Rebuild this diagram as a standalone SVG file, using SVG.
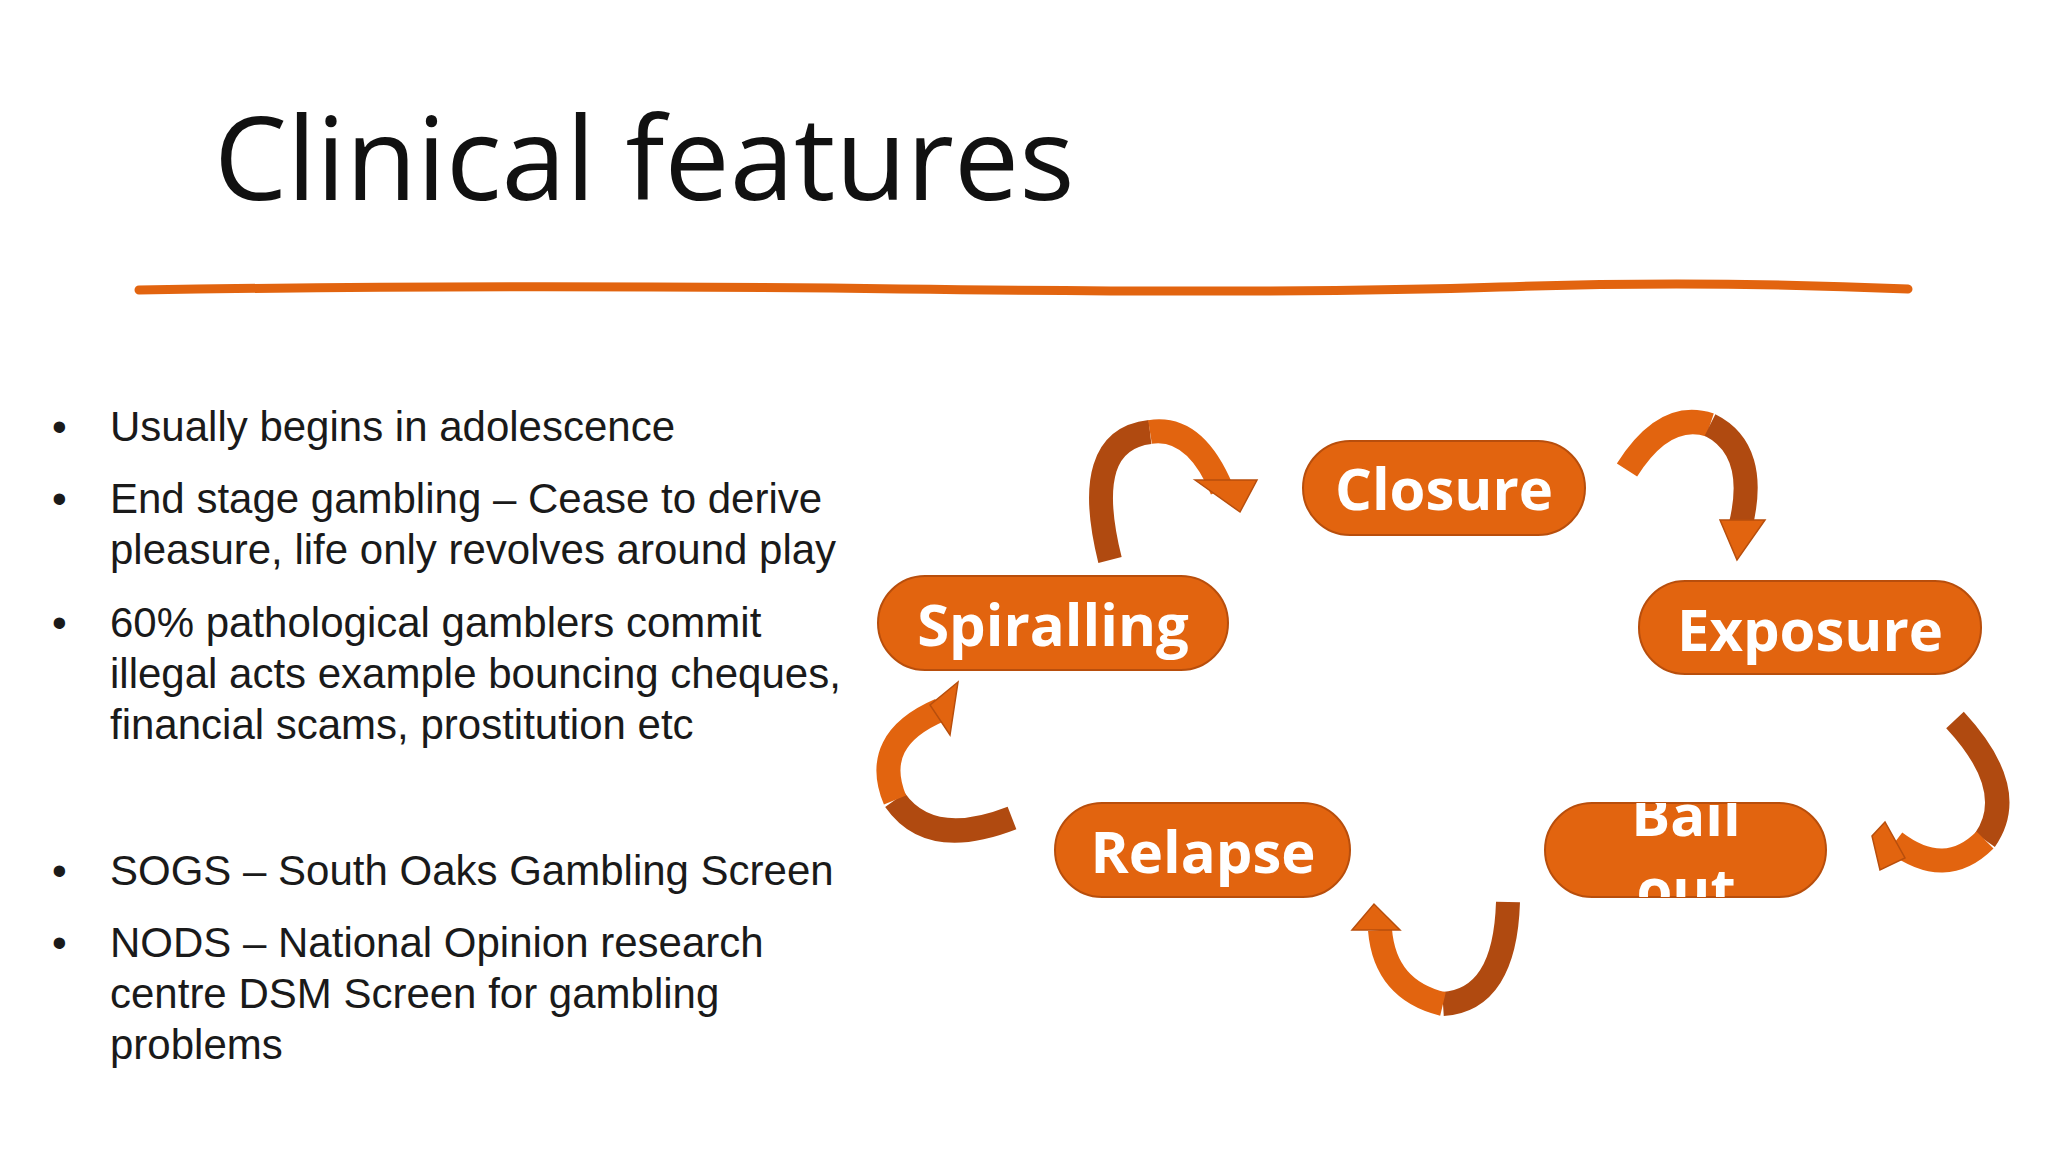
<svg xmlns="http://www.w3.org/2000/svg" width="2048" height="1152" viewBox="0 0 2048 1152">
<defs>
<style>
.b{font-family:"Liberation Sans",Arial,sans-serif;font-size:42px;fill:#1a1a1a}
.n rect{fill:#E2640F;stroke:#B84E0C;stroke-width:2}
.n text{font-family:"Open Sans","Noto Sans",sans-serif;font-weight:bold;font-size:58px;fill:#fff;text-anchor:middle}
.arc{fill:none;stroke:#E2640F;stroke-width:24;stroke-linecap:butt}
.arcd{fill:none;stroke:#B04A10;stroke-width:24}
.hd{fill:#E2640F;stroke:#B84E0C;stroke-width:1.5}
</style>
<clipPath id="cb"><rect x="1545" y="803" width="281" height="94" rx="47"/></clipPath>
</defs>
<rect width="2048" height="1152" fill="#fff"/>
<text x="214" y="200" font-family="Open Sans,Noto Sans,sans-serif" font-size="116" fill="#111">Clinical features</text>
<path d="M139 290 Q500 284 900 289 T1500 287 T1908 289" fill="none" stroke="#E2640F" stroke-width="9" stroke-linecap="round"/>
<g class="b">
<text x="52" y="441">•</text><text x="110" y="441">Usually begins in adolescence</text>
<text x="52" y="513">•</text><text x="110" y="513">End stage gambling – Cease to derive</text>
<text x="110" y="564">pleasure, life only revolves around play</text>
<text x="52" y="637">•</text><text x="110" y="637">60% pathological gamblers commit</text>
<text x="110" y="688">illegal acts example bouncing cheques,</text>
<text x="110" y="739">financial scams, prostitution etc</text>
<text x="52" y="885">•</text><text x="110" y="885">SOGS – South Oaks Gambling Screen</text>
<text x="52" y="957">•</text><text x="110" y="957">NODS – National Opinion research</text>
<text x="110" y="1008">centre DSM Screen for gambling</text>
<text x="110" y="1059">problems</text>
</g>
<g id="connectors">
<path class="arcd" d="M1110 560 Q1080 440 1150 432"/>
<path class="arc" d="M1150 432 Q1195 425 1222 490"/>
<polygon class="hd" points="1195,480 1240,512 1257,480"/>
<path class="arc" d="M1627 470 Q1665 410 1710 425"/>
<path class="arcd" d="M1710 425 Q1760 450 1740 528"/>
<polygon class="hd" points="1720,520 1737,560 1765,520"/>
<path class="arcd" d="M1955 720 Q2020 790 1985 840"/>
<path class="arc" d="M1985 840 Q1945 880 1895 842"/>
<polygon class="hd" points="1885,822 1872,836 1880,870 1905,858"/>
<path class="arcd" d="M1508 902 Q1505 1000 1443 1004"/>
<path class="arc" d="M1443 1004 Q1385 990 1380 930"/>
<polygon class="hd" points="1352,930 1374,904 1400,930"/>
<path class="arcd" d="M1012 818 Q930 850 895 800"/>
<path class="arc" d="M895 800 Q870 740 940 710"/>
<polygon class="hd" points="930,705 958,682 950,735"/>
</g>
<g id="closure" class="n"><rect x="1303" y="441" width="282" height="94" rx="47"/><text x="1444" y="510">Closure</text></g>
<g id="spiralling" class="n"><rect x="878" y="576" width="350" height="94" rx="47"/><text x="1053" y="646">Spiralling</text></g>
<g id="exposure" class="n"><rect x="1639" y="581" width="342" height="93" rx="46"/><text x="1810" y="651">Exposure</text></g>
<g id="bailout" class="n"><rect x="1545" y="803" width="281" height="94" rx="47"/><g clip-path="url(#cb)"><text x="1686" y="836">Bail</text><text x="1686" y="910">out</text></g></g>
<g id="relapse" class="n"><rect x="1055" y="803" width="295" height="94" rx="47"/><text x="1203" y="873">Relapse</text></g>
</svg>
